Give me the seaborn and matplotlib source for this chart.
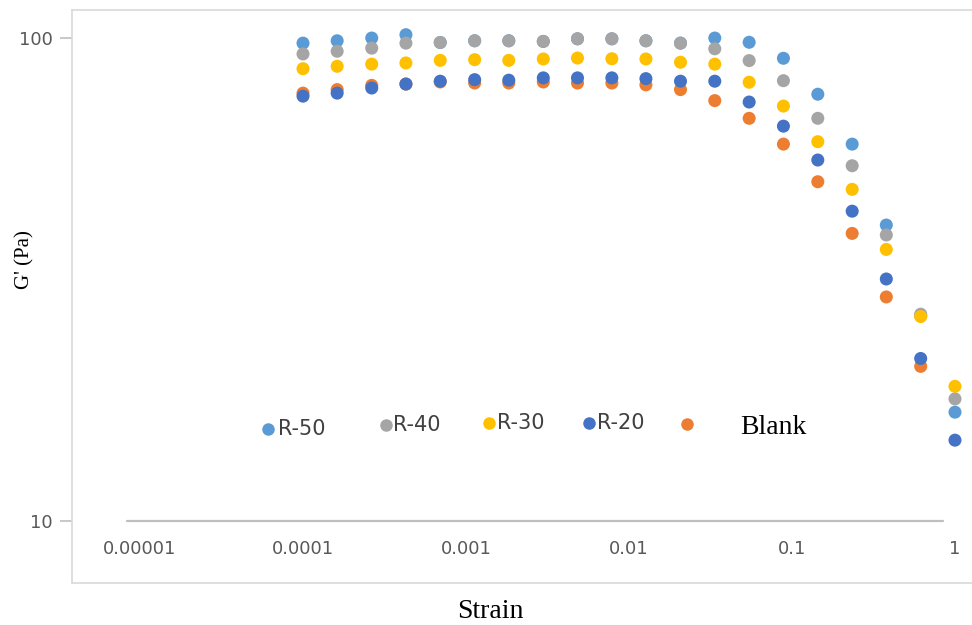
import numpy as np
import pandas as pd
import matplotlib
matplotlib.use("Agg")
import matplotlib.pyplot as plt
from matplotlib.lines import Line2D
from matplotlib.ticker import FixedLocator, FixedFormatter, NullLocator
import seaborn as sns

# Strain sweep (shared by all samples)
strain = [0.0001, 0.000162, 0.000264, 0.000428, 0.000695, 0.00113, 0.00183,
          0.00298, 0.00483, 0.00785, 0.0127, 0.0207, 0.0336, 0.0546, 0.0886,
          0.144, 0.234, 0.379, 0.616, 1.0]

# Storage modulus G' (Pa) for each sample
g_r50 = [97.6, 98.7, 100.0, 101.6, 97.9, 98.7, 98.7, 98.4, 99.6, 99.6,
         98.7, 97.6, 100.0, 98.0, 90.8, 76.5, 60.3, 41.0, 26.6, 16.8]
g_r40 = [92.7, 93.9, 95.3, 97.6, 97.9, 98.7, 98.7, 98.4, 99.7, 99.7,
         98.7, 97.6, 95.0, 89.8, 81.6, 68.2, 54.4, 39.1, 26.8, 17.9]
g_r30 = [86.4, 87.4, 88.3, 88.8, 89.9, 90.2, 89.9, 90.5, 90.9, 90.6,
         90.5, 89.1, 88.3, 81.0, 72.3, 61.0, 48.6, 36.5, 26.5, 19.0]
g_r20 = [75.8, 76.9, 78.8, 80.3, 81.4, 82.0, 81.8, 82.7, 82.7, 82.7,
         82.4, 81.4, 81.4, 73.7, 65.7, 55.9, 43.8, 31.7, 21.7, 14.7]
g_blank = [76.9, 78.2, 79.8, 80.3, 81.1, 80.7, 80.7, 81.1, 80.7, 80.7,
           80.0, 78.2, 74.2, 68.2, 60.3, 50.4, 39.4, 29.1, 20.9, np.nan]

samples = ["R-50", "R-40", "R-30", "R-20", "Blank"]
colors = {"R-50": "#5B9BD5", "R-40": "#A5A5A5", "R-30": "#FFC000",
          "R-20": "#4472C4", "Blank": "#ED7D31"}
series = {"R-50": g_r50, "R-40": g_r40, "R-30": g_r30,
          "R-20": g_r20, "Blank": g_blank}
draw_order = ["Blank", "R-20", "R-50", "R-40", "R-30"]

x_ticks = [0.00001, 0.0001, 0.001, 0.01, 0.1, 1]
x_ticklabels = ["0.00001", "0.0001", "0.001", "0.01", "0.1", "1"]
y_ticks = [10, 100]
y_ticklabels = ["10", "100"]

df = pd.concat(
    [pd.DataFrame({"Strain": strain, "G": series[s], "Sample": s}) for s in draw_order],
    ignore_index=True,
).dropna()

sns.set_style("white")
W, H = 972, 625
fig = plt.figure(figsize=(W / 100, H / 100), dpi=100)
ax = fig.add_axes([72 / W, 1 - 583 / H, (975 - 72) / W, (583 - 10) / H])

sns.scatterplot(data=df, x="Strain", y="G", hue="Sample", palette=colors,
                s=88, linewidth=0, edgecolor="none", alpha=1.0,
                legend=False, ax=ax, clip_on=False)

ax.set_xscale("log")
ax.set_yscale("log")
ax.set_xlim(3.826e-6, 1.3267)
ax.set_ylim(7.44, 114.3)

ax.xaxis.set_major_locator(FixedLocator(x_ticks))
ax.xaxis.set_major_formatter(FixedFormatter(x_ticklabels))
ax.xaxis.set_minor_locator(NullLocator())
ax.yaxis.set_major_locator(FixedLocator(y_ticks))
ax.yaxis.set_major_formatter(FixedFormatter(y_ticklabels))
ax.yaxis.set_minor_locator(NullLocator())

tick_font = {"family": "DejaVu Sans", "size": 13}
ax.tick_params(axis="x", length=0, pad=-31, labelcolor="#595959",
               labelsize=13)
ax.tick_params(axis="y", length=8.6, width=1.2, color="#BFBFBF", pad=5.5,
               labelcolor="#595959", labelsize=13, direction="out", left=True)
for lab in ax.get_xticklabels() + ax.get_yticklabels():
    lab.set_family("DejaVu Sans")

for sp in ax.spines.values():
    sp.set_visible(True)
    sp.set_color("#D9D9D9")
    sp.set_linewidth(1.2)

# horizontal category axis line at G' = 10
ax.axhline(10, xmin=(127 - 72) / 903, xmax=(943 - 72) / 903,
           color="#BFBFBF", linewidth=1.6, zorder=0.5)

ax.set_xlabel("Strain", family="Liberation Serif", fontsize=20,
              color="black", va="center")
ax.xaxis.set_label_coords((490 - 72) / 903, (583 - 612) / 573)
ax.set_ylabel("G' (Pa)", family="Liberation Serif", fontsize=15,
              color="black", va="center")
ax.yaxis.set_label_coords((25 - 72) / 903, (583 - 260) / 573)

# series key
key_items = [
    ("R-50", 268, 429, 278, 429, "DejaVu Sans", 15, "#404040"),
    ("R-40", 386, 425, 393, 425, "DejaVu Sans", 15, "#404040"),
    ("R-30", 489, 423, 497, 423, "DejaVu Sans", 15, "#404040"),
    ("R-20", 589, 423, 597, 423, "DejaVu Sans", 15, "#404040"),
    ("Blank", 687, 424, 740, 428, "Liberation Serif", 20, "black"),
]
for name, mx, my, tx, ty, fam, fs, tc in key_items:
    fig.add_artist(Line2D([mx / W], [1 - my / H], marker="o", markersize=9,
                          markeredgewidth=0, color=colors[name],
                          linestyle="none", transform=fig.transFigure))
    fig.text(tx / W, 1 - ty / H, name, family=fam, fontsize=fs, color=tc,
             ha="left", va="center")

fig.savefig("out.png", dpi=100)
